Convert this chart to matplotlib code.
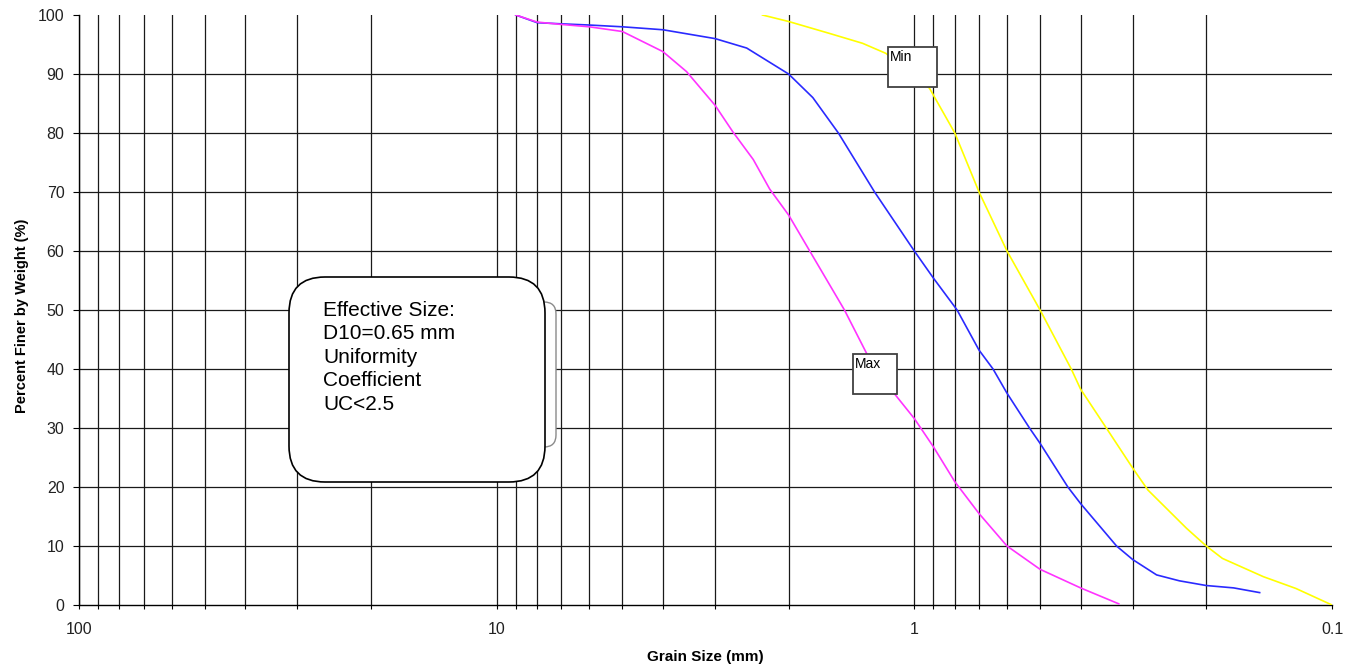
import matplotlib
matplotlib.use("Agg")
import matplotlib.pyplot as plt
from matplotlib.patches import FancyBboxPatch, Rectangle
from matplotlib.transforms import IdentityTransform
from matplotlib.ticker import LogLocator, NullFormatter, FixedFormatter, FixedLocator

plt.rcParams['font.family'] = ['Liberation Sans', 'DejaVu Sans']

# grain size curves (size in mm, percent finer)
mid_size = [9.0, 8.0, 7.0, 6.0, 5.0, 4.0, 3.0, 2.52, 2.0, 1.75, 1.52, 1.245, 1.0, 0.9,
            0.79, 0.7, 0.648, 0.6, 0.53, 0.5, 0.429, 0.4, 0.328, 0.30, 0.263, 0.232,
            0.2, 0.172, 0.149]
mid_pct = [100, 98.7, 98.5, 98.3, 98.0, 97.5, 96.0, 94.4, 90.0, 86.0, 80.0, 70.0, 60.0, 55.4,
           50.0, 43.2, 40.0, 35.9, 30.0, 27.4, 20.0, 17.2, 10.0, 7.7, 5.1, 4.1,
           3.3, 2.9, 2.1]

max_size = [9.0, 8.0, 7.0, 6.0, 5.0, 4.0, 3.51, 3.0, 2.72, 2.43, 2.22, 2.0, 1.78, 1.47,
            1.245, 1.0, 0.9, 0.8, 0.7, 0.6, 0.5, 0.4, 0.324]
max_pct = [100, 98.8, 98.4, 98.0, 97.2, 93.8, 90.4, 84.7, 80.2, 75.5, 70.5, 66.1, 60.0, 50.0,
           40.0, 31.6, 26.8, 20.9, 15.5, 10.0, 6.05, 2.9, 0.2]

min_size = [2.31, 2.0, 1.6, 1.33, 1.17, 0.92, 0.8, 0.7, 0.6, 0.5, 0.421, 0.4, 0.347,
            0.3, 0.276, 0.223, 0.2, 0.183, 0.146, 0.122, 0.1]
min_pct = [100, 98.9, 96.9, 95.2, 93.5, 87.6, 80.0, 70.0, 60.0, 50.0, 40.0, 36.6, 30.0,
           23.2, 19.5, 13.0, 10.0, 7.9, 4.8, 2.8, 0.0]

x_major = [100, 10, 1, 0.1]
x_labels = ['100', '10', '1', '0.1']
y_ticks = list(range(0, 101, 10))

note = "Effective Size:\nD10=0.65 mm\nUniformity\nCoefficient\nUC<2.5"

W, H = 1356, 671
fig = plt.figure(figsize=(W / 100, H / 100), dpi=100)
ax = fig.add_axes([79 / W, 1 - 605 / H, (1332 - 79) / W, (605 - 15) / H])

ax.set_xscale('log')
ax.set_xlim(100, 0.1)
ax.set_ylim(0, 100)

ax.xaxis.set_major_locator(FixedLocator(x_major))
ax.xaxis.set_major_formatter(FixedFormatter(x_labels))
ax.xaxis.set_minor_locator(LogLocator(base=10, subs=range(2, 10)))
ax.xaxis.set_minor_formatter(NullFormatter())
ax.set_yticks(y_ticks)

for s in ['top', 'right']:
    ax.spines[s].set_visible(False)
for s in ['left', 'bottom']:
    ax.spines[s].set_linewidth(1.0)
    ax.spines[s].set_color('black')

ax.tick_params(axis='x', which='both', direction='out', length=3, width=0.8,
               pad=9, labelsize=11.5, labelcolor='#222222')
ax.tick_params(axis='y', direction='out', length=4.5, width=0.8, pad=6, labelsize=11.5,
               labelcolor='#222222')

ax.grid(True, which='both', axis='x', color='#1a1a1a', lw=0.9)
ax.grid(True, which='major', axis='y', color='#1a1a1a', lw=0.9)
ax.set_axisbelow(True)

ax.plot(mid_size, mid_pct, color='#2a2aff', lw=1.2, zorder=3)
ax.plot(max_size, max_pct, color='#ff33ff', lw=1.2, zorder=3)
ax.plot(min_size, min_pct, color='#ffff00', lw=1.2, zorder=3)

ax.set_xlabel('Grain Size (mm)', fontsize=11, fontweight='bold')
ax.xaxis.set_label_coords(0.5, -0.077)
ax.set_ylabel('Percent Finer by Weight (%)', fontsize=10.5, fontweight='bold')
ax.yaxis.set_label_coords(-0.040, 0.49)

fig.canvas.draw()
for t in ax.xaxis.get_major_ticks():
    if abs(t.get_loc() - 0.1) < 1e-9:
        t.gridline.set_visible(False)
for t in ax.yaxis.get_major_ticks():
    if t.get_loc() in (0, 100):
        t.gridline.set_visible(False)

# note box (pixel placement, y measured from top)
px = IdentityTransform()
shadow = FancyBboxPatch((300, H - 447), 256, 145, boxstyle="round,pad=0,rounding_size=12",
                        transform=px, facecolor='white', edgecolor='#8a8a8a', lw=1.0, zorder=5)
fig.add_artist(shadow)
box = FancyBboxPatch((289, H - 482), 256, 205, boxstyle="round,pad=0,rounding_size=36",
                     transform=px, facecolor='white', edgecolor='black', lw=1.2, zorder=6)
fig.add_artist(box)
fig.text(323 / W, 1 - 301 / H, note, fontsize=15, va='top', ha='left',
         linespacing=1.3, zorder=7)

# curve labels
for name, x0, y0, x1, y1 in [('Min', 888, 47, 937, 87), ('Max', 853, 354, 897, 394)]:
    r = Rectangle((x0, H - y1), x1 - x0, y1 - y0, transform=px, facecolor='white',
                  edgecolor='#404040', lw=1.3, zorder=6)
    fig.add_artist(r)
    fig.text((x0 + 1.5) / W, 1 - (y0 + 3) / H, name, fontsize=10, va='top', ha='left',
             zorder=7)

fig.savefig('out.png', dpi=100)
